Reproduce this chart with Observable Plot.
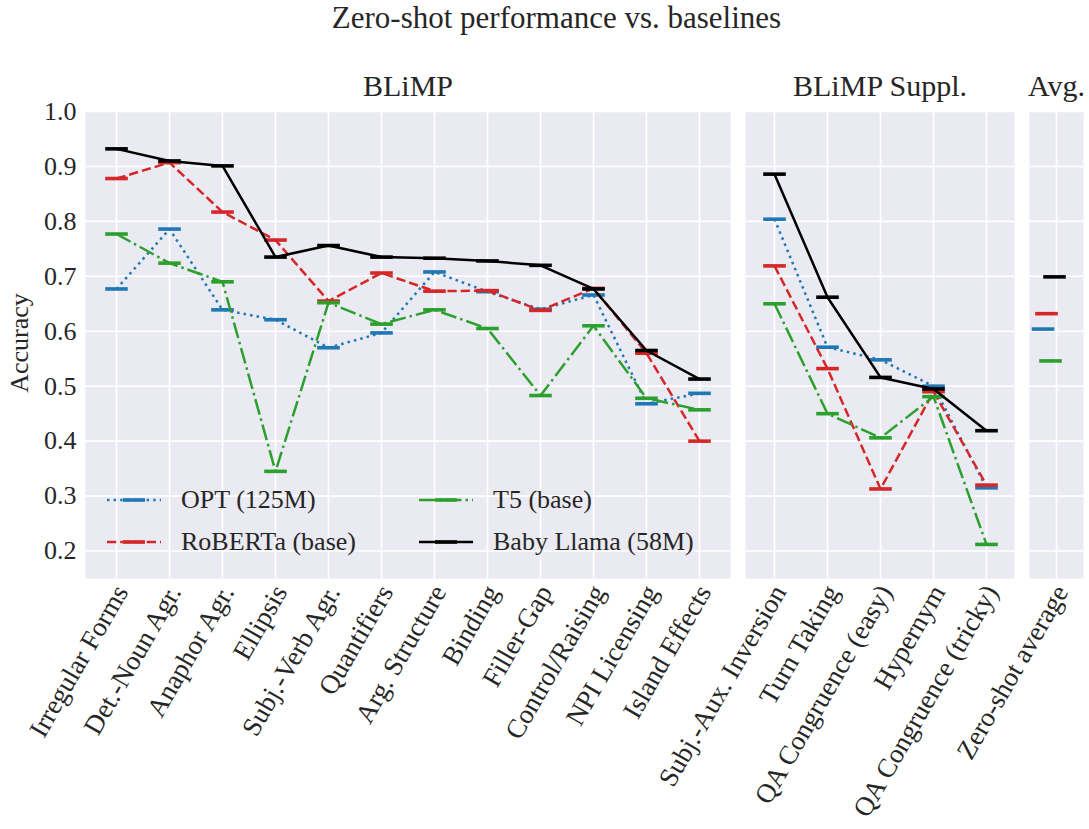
<!DOCTYPE html>
<html>
<head>
<meta charset="utf-8">
<script src="https://cdn.jsdelivr.net/npm/d3@7"></script>
<script src="https://cdn.jsdelivr.net/npm/@observablehq/plot@0.6"></script>
<style>
  body { margin: 0; background: #fff; }
  #wrap { position: relative; width: 1089px; height: 829px; overflow: hidden; font-family: "Liberation Serif", "Times New Roman", Tinos, "DejaVu Serif", serif; color: #262626; }
  #title { position: absolute; top: 2px; left: 12px; width: 1089px; text-align: center; font-size: 31px; line-height: 31px; }
  #row { position: absolute; top: 0; left: 0; display: flex; }
  #row svg { flex: none; display: block; }
  #legend { position: absolute; left: 107px; top: 482px; font-size: 26px; display: grid; grid-template-columns: 312px 320px; row-gap: 6px; white-space: nowrap; }
  .li { display: flex; align-items: center; height: 36px; }
  .li svg { margin-right: 20px; flex: none; }
</style>
</head>
<body>
<div id="wrap">
  <div id="title">Zero-shot performance vs. baselines</div>
  <div id="row"></div>
  <div id="legend"></div>
</div>
<script>
// ---------- data ----------
const blimpCats = ["Irregular Forms", "Det.-Noun Agr.", "Anaphor Agr.", "Ellipsis", "Subj.-Verb Agr.", "Quantifiers",
  "Arg. Structure", "Binding", "Filler-Gap", "Control/Raising", "NPI Licensing", "Island Effects"];
const supplCats = ["Subj.-Aux. Inversion", "Turn Taking", "QA Congruence (easy)", "Hypernym", "QA Congruence (tricky)"];
const avgCats = ["Zero-shot average"];
const models = ["OPT (125M)", "RoBERTa (base)", "T5 (base)", "Baby Llama (58M)"];
const yTicks = [0.2, 0.3, 0.4, 0.5, 0.6, 0.7, 0.8, 0.9, 1.0];

const optBlimp     = [0.677, 0.786, 0.639, 0.621, 0.570, 0.597, 0.708, 0.672, 0.640, 0.666, 0.468, 0.487];
const robertaBlimp = [0.878, 0.907, 0.817, 0.766, 0.655, 0.706, 0.673, 0.674, 0.638, 0.678, 0.560, 0.400];
const t5Blimp      = [0.777, 0.724, 0.690, 0.345, 0.652, 0.613, 0.639, 0.605, 0.483, 0.610, 0.478, 0.457];
const llamaBlimp   = [0.932, 0.910, 0.901, 0.735, 0.756, 0.735, 0.733, 0.728, 0.720, 0.677, 0.565, 0.513];

const optSuppl     = [0.804, 0.571, 0.548, 0.500, 0.315];
const robertaSuppl = [0.719, 0.532, 0.313, 0.490, 0.320];
const t5Suppl      = [0.650, 0.450, 0.406, 0.481, 0.212];
const llamaSuppl   = [0.886, 0.662, 0.516, 0.495, 0.419];

const avgScores = [0.604, 0.632, 0.546, 0.699]; // OPT, RoBERTa, T5, Baby Llama

// ---------- styles ----------
const FONT = "'Liberation Serif', 'Times New Roman', Tinos, 'DejaVu Serif', serif";
const colors = ["#1f77b4", "#d62728", "#2ca02c", "#000000"];
const dashes = ["2.5,4.1", "9.25,4", "16,4,2.5,4", null];
const avgDx = [-13.5, -10, -6, -2];
const LW = 2.5;
const hbar = {
  draw(context, size) {
    const r = Math.sqrt(size / Math.PI);
    context.rect(-r, -1.8, 2 * r, 3.6);
  }
};

function rows(cats, vals) { return cats.map((c, i) => ({cat: c, value: vals[i]})); }
const blimpSeries = [optBlimp, robertaBlimp, t5Blimp, llamaBlimp].map(v => rows(blimpCats, v));
const supplSeries = [optSuppl, robertaSuppl, t5Suppl, llamaSuppl].map(v => rows(supplCats, v));
const avgSeries = avgScores.map(v => rows(avgCats, [v]));

function panel({cats, series, width, marginLeft, marginRight, title, yAxis, lines, dxs}) {
  const marks = [
    Plot.frame({fill: "#eaeaf2", stroke: null}),
    Plot.gridX({stroke: "white", strokeOpacity: 1, strokeWidth: 1.6}),
    Plot.gridY(yTicks, {stroke: "white", strokeOpacity: 1, strokeWidth: 1.6}),
    Plot.axisX({tickSize: 0, tickPadding: 9, tickRotate: -60, dx: 5, fontSize: 27, label: null, fill: "#262626"}),
    Plot.text([title], {frameAnchor: "top", lineAnchor: "middle", dy: -25, fontSize: 30, fill: "#262626"})
  ];
  if (yAxis) {
    marks.push(Plot.axisY(yTicks, {tickSize: 0, tickPadding: 9, tickFormat: ".1f", fontSize: 26, label: null, fill: "#262626"}));
    marks.push(Plot.text(["Accuracy"], {frameAnchor: "left", textAnchor: "middle", rotate: -90, dx: -66, dy: -2, fontSize: 26, fill: "#262626"}));
  } else {
    marks.push(Plot.axisY({ticks: [], label: null}));
  }
  series.forEach((d, i) => {
    if (lines) marks.push(Plot.line(d, {x: "cat", y: "value", stroke: colors[i], strokeWidth: LW, strokeDasharray: dashes[i], strokeLinecap: "butt"}));
    marks.push(Plot.dot(d, {x: "cat", y: "value", symbol: hbar, r: 11.3, fill: colors[i], stroke: "none", dx: dxs ? dxs[i] : 0}));
  });
  return Plot.plot({
    width, height: 829,
    marginTop: 111, marginBottom: 251, marginLeft, marginRight,
    style: {fontFamily: FONT, fontSize: "26px", background: "transparent", overflow: "visible", color: "#262626"},
    x: {type: "point", domain: cats, padding: 0.5},
    y: {domain: [0.15, 1.0]},
    marks
  });
}

const row = document.getElementById("row");
row.append(panel({cats: blimpCats, series: blimpSeries, width: 730, marginLeft: 85, marginRight: 0, title: "BLiMP", yAxis: true, lines: true}));
row.append(panel({cats: supplCats, series: supplSeries, width: 284, marginLeft: 15, marginRight: 0, title: "BLiMP Suppl.", yAxis: false, lines: true}));
row.append(panel({cats: avgCats, series: avgSeries, width: 75, marginLeft: 15, marginRight: 6, title: "Avg.", yAxis: false, lines: false, dxs: avgDx}));

// ---------- legend ----------
const legendOrder = [0, 2, 1, 3];
const legend = document.getElementById("legend");
for (const i of legendOrder) {
  const item = document.createElement("div");
  item.className = "li";
  const dash = dashes[i] ? `stroke-dasharray="${dashes[i]}"` : "";
  item.innerHTML = `<svg width="54" height="20"><line x1="0" y1="10" x2="54" y2="10" stroke="${colors[i]}" stroke-width="${LW}" ${dash}/>` +
    `<rect x="16" y="8.2" width="22" height="3.6" fill="${colors[i]}"/></svg><span>${models[i]}</span>`;
  legend.append(item);
}
</script>
</body>
</html>
